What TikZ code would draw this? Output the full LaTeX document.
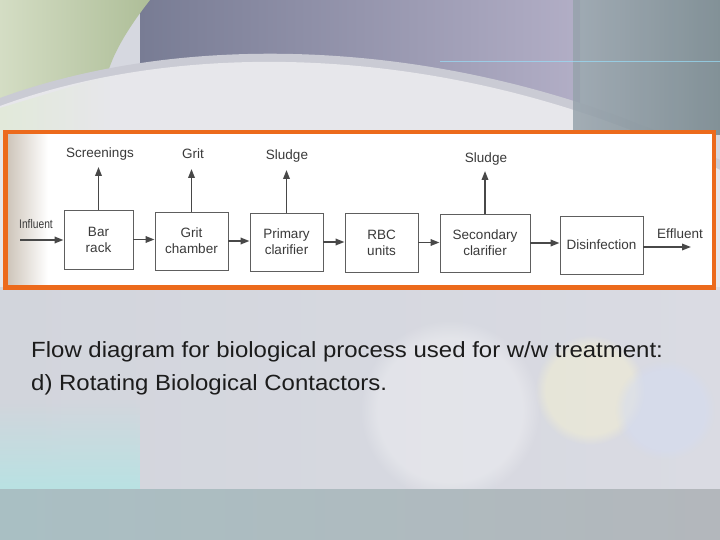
\documentclass[tikz,border=0pt]{standalone}
\usepackage{fontspec}
\setmainfont{Liberation Sans}
\usetikzlibrary{arrows.meta,calc,fadings}
\definecolor{orangeframe}{HTML}{EC6A1C}
\definecolor{ink}{HTML}{3A3A3A}
\definecolor{arrowink}{HTML}{484848}
\definecolor{boxline}{HTML}{5E5E5E}
\definecolor{capink}{HTML}{1C1C1C}
\definecolor{bglow}{HTML}{D6D8E0}
\definecolor{lowA}{HTML}{D2D5DC}
\definecolor{lowB}{HTML}{DADBE3}
\definecolor{bgarcA}{HTML}{CACBD4}
\definecolor{bgarcB}{HTML}{E7E7EB}
\definecolor{topA}{HTML}{787C94}
\definecolor{topB}{HTML}{8E8B84}
\definecolor{topC}{HTML}{B2AEC6}
\definecolor{greenA}{HTML}{D4DDC4}
\definecolor{greenB}{HTML}{AEBE98}
\definecolor{greenC}{HTML}{E2EADA}
\definecolor{colA}{HTML}{97A3AC}
\definecolor{colB}{HTML}{74858B}
\definecolor{tealpatch}{HTML}{B9E2E3}
\definecolor{bandA}{HTML}{A9BFC3}
\definecolor{bandB}{HTML}{9CA2AB}
\definecolor{bandC}{HTML}{B3B7BC}
\definecolor{cream}{HTML}{F3EFD2}
\definecolor{paleblue}{HTML}{D4DCF2}
\definecolor{shadowc}{HTML}{CDC4B9}
\tikzset{
  proc/.style={draw=boxline, line width=0.9pt, fill=white, text=ink,
    font=\fontsize{13.5}{16}\selectfont, align=center, inner sep=0pt},
  flow/.style={draw=arrowink, line width=1.8pt, -{Triangle[length=9pt,width=6.5pt]}},
  lab/.style={text=ink, font=\fontsize{13.5}{16}\selectfont, inner sep=0pt, anchor=base},
  captext/.style={text=capink, font=\fontsize{22}{26}\selectfont, inner sep=0pt, anchor=base west}
}
\begin{document}
\begin{tikzpicture}[x=1pt,y=-1pt]
\useasboundingbox (0,0) rectangle (720,540);
% ---------- background ----------
\fill[bglow] (0,0) rectangle (720,540);
\shade[left color=topA, middle color=topB, right color=topC] (140,0) rectangle (580,140);
\shade[left color=greenA, right color=greenB]
  (0,0) -- (150,0) .. controls (128,28) and (114,52) .. (108,72) -- (0,104) -- cycle;
\fill[bgarcA] (0,98) .. controls (200,25) and (480,40) .. (720,160) -- (720,290) -- (0,290) -- cycle;
\fill[bgarcB] (0,106) .. controls (200,33) and (480,48) .. (720,170) -- (720,290) -- (0,290) -- cycle;
\fill[greenC, path fading=east] (0,108) -- (110,75) -- (110,140) -- (0,140) -- cycle;
\shade[left color=colA, right color=colB, opacity=0.85] (573,0) rectangle (720,135);
\draw[cyan!40!white, line width=1pt, opacity=0.7] (440,62) -- (720,62);
% lower region
\shade[left color=lowA, right color=lowB] (0,287) rectangle (720,489);
\fill[tealpatch, path fading=north] (0,400) rectangle (140,489);
\fill[cream, path fading=circle with fuzzy edge 20 percent, opacity=0.55] (590,390) circle (55);
\fill[paleblue, path fading=circle with fuzzy edge 20 percent, opacity=0.5] (665,410) circle (50);
\fill[white, path fading=circle with fuzzy edge 20 percent, opacity=0.3] (450,410) circle (90);
\shade[left color=bandA, middle color=bandB, right color=bandC] (0,489) rectangle (720,540);
% ---------- diagram panel ----------
\fill[white] (5.5,132) rectangle (714,287.5);
\shade[left color=shadowc, right color=white] (7,134) rectangle (48,285.5);
\draw[orangeframe, line width=4.5pt] (5.5,132) rectangle (714,287.5);
% ---------- process boxes ----------
\node[proc, minimum width=69pt, minimum height=59pt] (bar) at (98.5,239.5) {Bar\\rack};
\node[proc, minimum width=73pt, minimum height=58pt] (grit) at (191.5,241) {Grit\\chamber};
\node[proc, minimum width=73pt, minimum height=58pt] (prim) at (286.5,242) {Primary\\clarifier};
\node[proc, minimum width=73pt, minimum height=59pt] (rbc) at (381.5,242.5) {RBC\\units};
\node[proc, minimum width=90pt, minimum height=58pt] (sec) at (485,243) {Secondary\\clarifier};
\node[proc, minimum width=83pt, minimum height=58pt] (dis) at (601.5,245) {Disinfection};
% ---------- free ends ----------
\coordinate (inf) at (20,240);
\coordinate (eff) at (691,247);
\coordinate (scrT) at (98.5,167);
\coordinate (gritT) at (191.5,169);
\coordinate (sl1T) at (286.5,170);
\coordinate (sl2T) at (485,171);
% ---------- labels ----------
\node[lab, text=ink] (linf) at (36,229) {\scalebox{0.82}[1]{\fontsize{12.5}{14}\selectfont Influent}};
\node[lab] (leff) at (680,238) {Effluent};
\node[lab] (lscr) at (100,158) {Screenings};
\node[lab] (lgrit) at (193,159) {Grit};
\node[lab] (lsl1) at (287,160) {Sludge};
\node[lab] (lsl2) at (486,163) {Sludge};
% ---------- connectors ----------
\draw[flow] (inf) -- (inf -| bar.west);
\draw[flow] (bar.east) -- (bar.east -| grit.west);
\draw[flow] (grit.east) -- (grit.east -| prim.west);
\draw[flow] (prim.east) -- (prim.east -| rbc.west);
\draw[flow] (rbc.east) -- (rbc.east -| sec.west);
\draw[flow] (sec.east) -- (sec.east -| dis.west);
\draw[flow] (dis.east |- eff) -- (eff);
\draw[flow] (bar.north) -- (scrT);
\draw[flow] (grit.north) -- (gritT);
\draw[flow] (prim.north) -- (sl1T);
\draw[flow] (sec.north) -- (sl2T);
% ---------- caption ----------
\node[captext] (cap1) at (31,357) {\scalebox{1.09}[1]{Flow diagram for biological process used for w/w treatment:}};
\node[captext] (cap2) at (31,390) {\scalebox{1.09}[1]{d) Rotating Biological Contactors.}};
\end{tikzpicture}
\end{document}
